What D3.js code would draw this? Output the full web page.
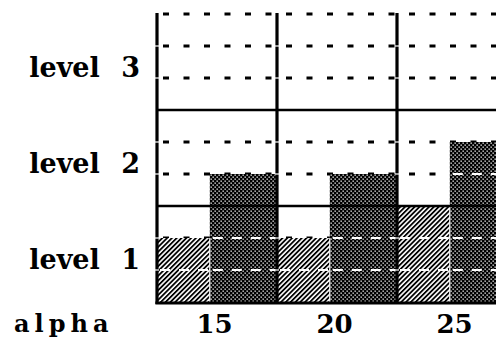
<!DOCTYPE html>
<html>
<head>
<meta charset="utf-8">
<script src="https://cdn.jsdelivr.net/npm/d3@7"></script>
<style>
  html, body { margin: 0; padding: 0; background: #fff; }
  svg { display: block; }
</style>
</head>
<body>
<div id="chart"></div>
<script>
// ---- data ----
const alphas = ["15", "20", "25"];
const level1Values = [2, 2, 3];   // light hatched bars
const level2Values = [4, 4, 5];   // dark stippled bars
const levelLabels = ["level 1", "level 2", "level 3"];
const levelTicks = [1, 4, 7];
const dashedTicks = [1, 2, 4, 5, 7, 8, 9];
const solidTicks = [3, 6];
const xTitle = "alpha";

// ---- layout ----
const W = 496, H = 338;
const svg = d3.select("#chart").append("svg")
  .attr("width", W).attr("height", H)
  .style("background", "#fff");

const x = d3.scaleBand().domain(alphas).range([157, 517]).padding(0);
const y = d3.scaleLinear().domain([0, 9]).range([302, 14]);
const split = d3.scaleLinear().domain([0, 1]).range([0, x.bandwidth()]);
const lightFrac = 0.44;

// ---- patterns ----
const defs = svg.append("defs");
const hatch = defs.append("pattern")
  .attr("id", "hatch").attr("patternUnits", "userSpaceOnUse")
  .attr("width", 3.4).attr("height", 3.4)
  .attr("patternTransform", "rotate(45)");
hatch.append("rect").attr("width", 3.4).attr("height", 3.4).attr("fill", "#fff");
hatch.append("rect").attr("width", 1.8).attr("height", 3.4).attr("fill", "#000");

const stip = defs.append("pattern")
  .attr("id", "stip").attr("patternUnits", "userSpaceOnUse")
  .attr("width", 4).attr("height", 4);
stip.append("rect").attr("width", 4).attr("height", 4).attr("fill", "#000");
stip.append("rect").attr("x", 0.5).attr("y", 0.5).attr("width", 1.3).attr("height", 1.3).attr("fill", "#fff");
stip.append("rect").attr("x", 2.5).attr("y", 2.5).attr("width", 1.3).attr("height", 1.3).attr("fill", "#fff");

const x0 = x.range()[0];
const xEnd = W;

// ---- black dashed gridlines ----
svg.append("g").selectAll("line").data(dashedTicks).join("line")
  .attr("x1", x0 + 6).attr("x2", xEnd)
  .attr("y1", d => y(d)).attr("y2", d => y(d))
  .attr("stroke", "#000").attr("stroke-width", 3)
  .attr("stroke-dasharray", "6,14.5");

// ---- bars ----
const bars = [];
alphas.forEach((a, i) => {
  const gx = x(a);
  bars.push({ x1: gx + split(0), x2: gx + split(lightFrac), v: level1Values[i], fill: "url(#hatch)" });
  bars.push({ x1: gx + split(lightFrac), x2: gx + split(1), v: level2Values[i], fill: "url(#stip)" });
});
svg.append("g").selectAll("rect").data(bars).join("rect")
  .attr("x", d => d.x1).attr("width", d => d.x2 - d.x1)
  .attr("y", d => y(d.v)).attr("height", d => y(0) - y(d.v))
  .attr("fill", d => d.fill);

// thin white separators between light and dark bars
svg.append("g").selectAll("line").data(alphas).join("line")
  .attr("x1", a => x(a) + split(lightFrac)).attr("x2", a => x(a) + split(lightFrac))
  .attr("y1", (a, i) => y(Math.min(level1Values[i], level2Values[i]))).attr("y2", y(0))
  .attr("stroke", "#fff").attr("stroke-width", 1.2);

// ---- white dashed gridlines over bars ----
const whiteSegs = [];
bars.forEach(b => dashedTicks.filter(t => t < b.v).forEach(t => whiteSegs.push({ x1: b.x1, x2: b.x2, t })));
svg.append("g").selectAll("line").data(whiteSegs).join("line")
  .attr("x1", d => d.x1 + 3).attr("x2", d => d.x2 - 1)
  .attr("y1", d => y(d.t)).attr("y2", d => y(d.t))
  .attr("stroke", "#fff").attr("stroke-width", 2.2)
  .attr("stroke-dasharray", "10,9");

// ---- solid gridlines ----
svg.append("g").selectAll("line").data(solidTicks).join("line")
  .attr("x1", x0).attr("x2", xEnd)
  .attr("y1", d => y(d)).attr("y2", d => y(d))
  .attr("stroke", "#000").attr("stroke-width", 2.6);

// ---- vertical group lines and axis ----
const vlines = [x0].concat(alphas.slice(1).map(a => x(a)));
svg.append("g").selectAll("line").data(vlines).join("line")
  .attr("x1", d => d).attr("x2", d => d)
  .attr("y1", y(9) - 1).attr("y2", y(0) + 2)
  .attr("stroke", "#000").attr("stroke-width", 3.2);

// small white breaks where dashed lines cross the vertical lines
const gaps = [];
vlines.forEach(vx => dashedTicks.filter(t => t < 9).forEach(t => gaps.push({ vx, t })));
svg.append("g").selectAll("line").data(gaps).join("line")
  .attr("x1", d => d.vx - 2).attr("x2", d => d.vx + 2)
  .attr("y1", d => y(d.t)).attr("y2", d => y(d.t))
  .attr("stroke", "#fff").attr("stroke-width", 1.2);

// baseline
svg.append("line")
  .attr("x1", x0 - 1.6).attr("x2", xEnd)
  .attr("y1", y(0) + 1).attr("y2", y(0) + 1)
  .attr("stroke", "#000").attr("stroke-width", 3.2);

// ---- labels ----
const font = "'DejaVu Serif', serif";
svg.append("g").selectAll("text").data(levelTicks).join("text")
  .attr("x", 140).attr("y", d => y(d) - 1)
  .attr("text-anchor", "end")
  .style("font-family", font).style("font-weight", "bold")
  .style("font-size", "27px").style("word-spacing", "12px")
  .text((d, i) => levelLabels[i]);

svg.append("g").selectAll("text").data(alphas).join("text")
  .attr("x", a => x(a) + x.bandwidth() * 0.48).attr("y", 333)
  .attr("text-anchor", "middle")
  .style("font-family", font).style("font-weight", "bold")
  .style("font-size", "26px")
  .text(a => a);

svg.append("text")
  .attr("x", 14).attr("y", 332)
  .style("font-family", font).style("font-weight", "bold")
  .style("font-size", "24px").style("letter-spacing", "5px")
  .text(xTitle);
</script>
</body>
</html>
